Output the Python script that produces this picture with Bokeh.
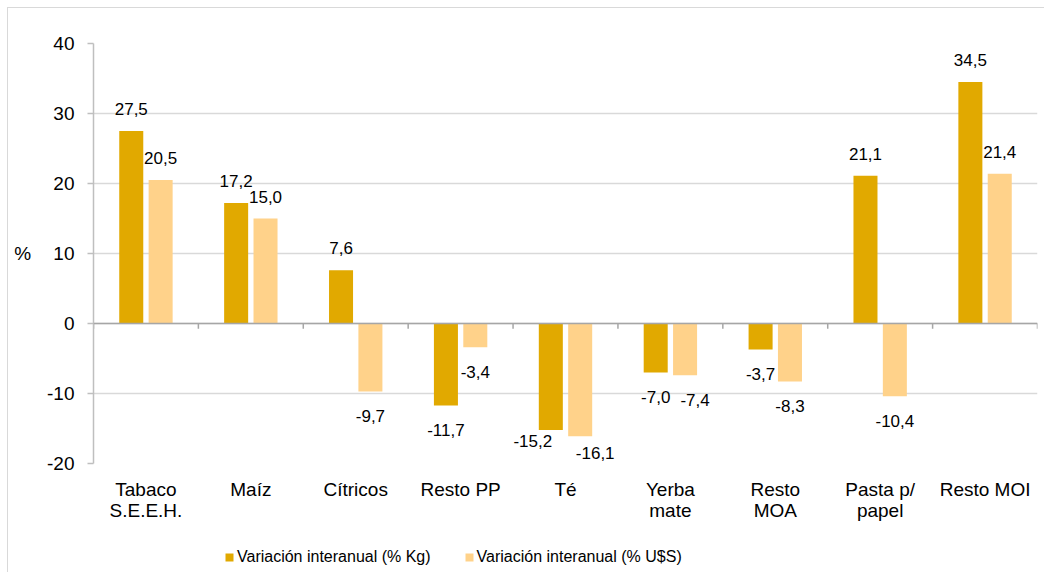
from bokeh.plotting import figure
from bokeh.layouts import column
from bokeh.models import (ColumnDataSource, Range1d, FactorRange, FixedTicker, Span,
                          Legend, LegendItem)
from bokeh.transform import dodge
from bokeh.core.properties import value
from bokeh.embed import file_html
from bokeh.resources import INLINE

# ---- data ----
categories = ["Tabaco\nS.E.E.H.", "Maíz", "Cítricos", "Resto PP", "Té",
              "Yerba\nmate", "Resto\nMOA", "Pasta p/\npapel", "Resto MOI"]
kg_values = [27.5, 17.2, 7.6, -11.7, -15.2, -7.0, -3.7, 21.1, 34.5]
usd_values = [20.5, 15.0, -9.7, -3.4, -16.1, -7.4, -8.3, -10.4, 21.4]
series_names = ["Variación interanual (% Kg)", "Variación interanual (% U$S)"]
y_ticks = [-20, -10, 0, 10, 20, 30, 40]

# label nudges (pixels) reproducing the original's label placement
kg_label_dx = [0, 0, 0, 0, -18, 0, 0, 0, 0]
kg_label_dy = [0, 0, 0, 0, 13, 0, 0, 0, 0]
usd_label_dx = [0, 0, 0, 0, 15, 10, 0, 0, 0]
usd_label_dy = [0, 0, 0, 0, 8, 0, 0, 0, 0]

FONT = "Liberation Sans"
C_KG = "#E1A900"
C_USD = "#FFD28A"
BORDER = {"transform": "translate(7px, 7px)", "border-left": "1px solid #d9d9d9"}


def fmt(v):
    return f"{v:.1f}".replace(".", ",")


def offs(vals, dys):
    # screen y offset: negative = up
    return [-((22 if v >= 0 else -24.5) + d) for v, d in zip(vals, dys)]


src = ColumnDataSource(dict(
    cat=categories,
    kg=kg_values,
    usd=usd_values,
    kg_txt=[fmt(v) for v in kg_values],
    usd_txt=[fmt(v) for v in usd_values],
    kg_dx=kg_label_dx,
    usd_dx=usd_label_dx,
    kg_dy=offs(kg_values, kg_label_dy),
    usd_dy=offs(usd_values, usd_label_dy),
))

p = figure(width=1037, height=525, output_backend="svg", toolbar_location=None,
           x_range=FactorRange(*categories, range_padding=0),
           y_range=Range1d(-20, 40),
           min_border_left=85, min_border_right=8, min_border_top=35,
           min_border_bottom=70,
           background_fill_color="white", border_fill_color="white",
           styles=dict(BORDER, **{"border-top": "1px solid #d9d9d9"}))
p.outline_line_color = None

# grid
p.xgrid.grid_line_color = None
p.ygrid.ticker = FixedTicker(ticks=y_ticks)
p.ygrid.grid_line_color = "#d9d9d9"
p.ygrid.grid_line_width = 1.5

# y axis
p.yaxis.ticker = FixedTicker(ticks=y_ticks)
p.yaxis.major_label_overrides = {t: str(t) for t in y_ticks}
p.yaxis.axis_line_color = "#bfbfbf"
p.yaxis.axis_line_width = 1.5
p.yaxis.major_tick_line_color = "#bfbfbf"
p.yaxis.major_tick_line_width = 1.5
p.yaxis.major_tick_out = 6
p.yaxis.major_tick_in = 0
p.yaxis.minor_tick_line_color = None
p.yaxis.major_label_text_font = FONT
p.yaxis.major_label_text_font_size = "19px"
p.yaxis.major_label_text_color = "black"
p.yaxis.major_label_standoff = 13
p.yaxis.axis_label = "%"
p.yaxis.axis_label_orientation = "horizontal"
p.yaxis.axis_label_standoff = 13
p.yaxis.axis_label_text_font = FONT
p.yaxis.axis_label_text_font_size = "19px"
p.yaxis.axis_label_text_font_style = "normal"
p.yaxis.axis_label_text_color = "black"

# x axis (labels at bottom, line at zero)
p.xaxis.axis_line_color = None
p.xaxis.major_tick_line_color = None
p.xaxis.minor_tick_line_color = None
p.xaxis.major_label_text_font = FONT
p.xaxis.major_label_text_font_size = "19px"
p.xaxis.major_label_text_color = "black"
p.xaxis.major_label_standoff = 9
p.xaxis.major_label_text_line_height = 1.03

bw = 0.229
r_kg = p.vbar(x=dodge("cat", -0.14, range=p.x_range), top="kg", bottom=0, width=bw,
              source=src, fill_color=C_KG, line_color=None)
r_usd = p.vbar(x=dodge("cat", 0.14, range=p.x_range), top="usd", bottom=0, width=bw,
               source=src, fill_color=C_USD, line_color=None)

p.add_layout(Span(location=0, dimension="width", line_color="#a6a6a6", line_width=1.5))

# category boundary ticks on the zero line
tick_src_left = ColumnDataSource(dict(cat=categories))
tick_src_right = ColumnDataSource(dict(cat=[categories[-1]]))
for s, o in ((tick_src_left, -0.5), (tick_src_right, 0.5)):
    p.segment(x0=dodge("cat", o, range=p.x_range), y0=0,
              x1=dodge("cat", o, range=p.x_range), y1=-0.75,
              source=s, line_color="#a6a6a6", line_width=1.5)

# data labels
common = dict(source=src, text_align="center", text_baseline="middle",
              text_font=value(FONT), text_font_size="17px", text_color="black")
p.text(x=dodge("cat", -0.14, range=p.x_range), y="kg", text="kg_txt",
       x_offset="kg_dx", y_offset="kg_dy", **common)
p.text(x=dodge("cat", 0.14, range=p.x_range), y="usd", text="usd_txt",
       x_offset="usd_dx", y_offset="usd_dy", **common)

# ---- legend strip (separate figure below the chart) ----
pl = figure(width=1037, height=40, output_backend="svg", toolbar_location=None,
            x_axis_type=None, y_axis_type=None, x_range=Range1d(0, 1), y_range=Range1d(0, 1),
            min_border=0, background_fill_color="white", border_fill_color="white",
            styles=dict(BORDER))
pl.outline_line_color = None
pl.grid.grid_line_color = None
# legend proxies: outside the strip's visible range, only their swatches show
l_kg = pl.vbar(x=[-10], top=[-10], bottom=[-11], width=0.1, fill_color=C_KG, line_color=None)
l_usd = pl.vbar(x=[-10], top=[-10], bottom=[-11], width=0.1, fill_color=C_USD, line_color=None)

legend = Legend(items=[LegendItem(label=series_names[0], renderers=[l_kg]),
                       LegendItem(label=series_names[1], renderers=[l_usd])],
                orientation="horizontal", location=(131, 6),
                label_text_font=FONT, label_text_font_size="16px",
                label_text_color="black", glyph_width=10, glyph_height=10,
                label_standoff=3, spacing=33, padding=4, margin=0,
                border_line_color=None, background_fill_alpha=0)
pl.add_layout(legend, "center")

layout = column(p, pl, spacing=0)
open("out.html", "w").write(file_html(layout, INLINE))
